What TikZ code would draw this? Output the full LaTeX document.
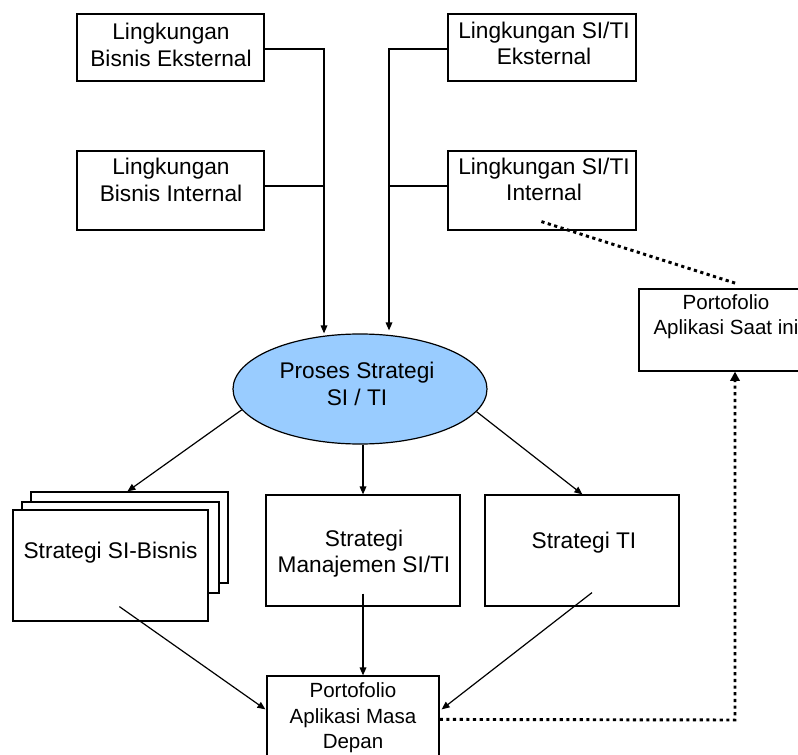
\documentclass[tikz,border=0pt]{standalone}
\usepackage{fontspec}
\setmainfont{Liberation Sans}
\usetikzlibrary{shapes.geometric,arrows.meta,fit,calc}
\definecolor{ellblue}{RGB}{153,204,255}
\begin{document}
\begin{tikzpicture}[x=0.75pt,y=-0.75pt,
  box/.style={draw,line width=0.9pt,inner sep=0pt,fill=white},
  lbl/.style={align=center,font=\fontsize{17}{20}\selectfont,inner sep=0pt},
  slbl/.style={align=center,font=\fontsize{15.4}{19}\selectfont,inner sep=0pt},
  conn/.style={line width=0.9pt},
  arr/.style={line width=0.9pt,-{Triangle[length=6pt,width=5pt]}},
  dots/.style={line width=2.2pt,dash pattern=on 2.4pt off 2.6pt},
]
\path[fill=white,use as bounding box] (0,0) rectangle (798,755);

% top boxes
\node[box,fit={(77,14) (264,81)}] (b1) {};
\node[box,fit={(77,151) (264,230)}] (b2) {};
\node[box,fit={(448,14) (636,81)}] (b3) {};
\node[box,fit={(448,151) (636,230)}] (b4) {};
\node[lbl] (t1) at (171,45) {Lingkungan\\Bisnis Eksternal};
\node[lbl] (t2) at (171,180) {Lingkungan\\Bisnis Internal};
\node[lbl] (t3) at (544,43.5) {Lingkungan SI/TI\\Eksternal};
\node[lbl] (t4) at (544,179.5) {Lingkungan SI/TI\\Internal};

% current portfolio box
\node[box,fit={(639,289) (813,371)}] (ps) {};
\node[slbl] (tps) at (726,316.5) {Portofolio\\Aplikasi Saat ini};

% ellipse
\node[ellipse,draw,line width=0.9pt,fill=ellblue,inner sep=0pt,
      minimum width=190.5pt,minimum height=82.5pt] (e) at (360,389) {};
\node[lbl] (te) at (357,384) {Proses Strategi\\SI / TI};

% stacked boxes
\node[box,fit={(31,492) (228,583)}] (s3) {};
\node[box,fit={(22,502) (219,593)}] (s2) {};
\node[box,fit={(13,510) (208,621)}] (f) {};
\node[lbl] (tf) at (110.5,553) {Strategi SI-Bisnis};

% middle and right boxes
\node[box,fit={(266,495) (460,606)}] (m) {};
\node[lbl] (tm) at (364,553.5) {Strategi\\Manajemen SI/TI};
\node[box,fit={(485,495) (679,606)}] (t) {};
\node[lbl] (tt) at (584,543) {Strategi TI};

% future portfolio box
\node[box,fit={(267,676) (439,775)}] (pf) {};
\node[slbl,align=center] (tpf) at (353,718) {Portofolio\\Aplikasi Masa\\Depan};

% top connectors
\coordinate (lv) at (324,0);
\coordinate (rv) at (389,0);
\draw[arr] ($(b1.east)+(0,1.5)$) -- ($(b1.east -| lv)+(0,1.5)$) -- (lv |- e.north);
\draw[conn] ($(b2.east)+(0,-4.5)$) -- ($(b2.east -| lv)+(0,-4.5)$);
\draw[arr] ($(b3.west)+(0,1.5)$) -- ($(b3.west -| rv)+(0,1.5)$) -- ($(rv |- e.north)+(0,-3)$);
\draw[conn] ($(b4.west)+(0,-4.5)$) -- ($(b4.west -| rv)+(0,-4.5)$);

% ellipse outputs
\draw[arr] (e.190.6) -- ($(s3.north west)+(97,0)$);
\draw[arr] (m.north |- e.south) -- (m.north);
\draw[arr] (e.349.8) -- ($(t.north west)+(98,0)$);

% into future portfolio
\draw[arr] ($(f.south west)+(107,-15)$) -- ($(pf.north west)+(-1,34)$);
\draw[arr] ($(m.south)+(0,-13)$) -- (m.south |- pf.north);
\draw[arr] ($(t.south)+(10,-14)$) -- ($(pf.north east)+(2,34)$);

% dotted links
\coordinate (dc) at (735,720);
\draw[dots,-{Triangle[length=7pt,width=7pt]}] ($(pf.north east)+(0,44)$) -- (dc) -- (dc |- ps.south);
\draw[dots] ($(b4.south west)+(94,-9)$) -- ($(ps.north)+(10,-5)$);
\end{tikzpicture}
\end{document}
